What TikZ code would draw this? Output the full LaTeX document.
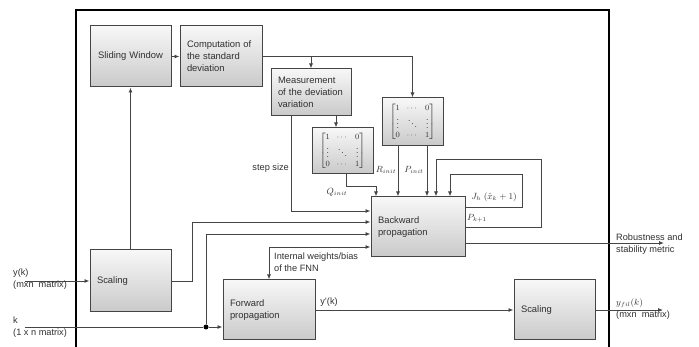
\documentclass[tikz,border=0pt]{standalone}
\usepackage{amsmath,amssymb}
\usepackage{fontspec}
\setmainfont{Liberation Sans}
\usepackage{xcolor}
\usetikzlibrary{arrows.meta,positioning,calc}

\definecolor{linegray}{HTML}{454545}
\definecolor{txtgray}{HTML}{303030}

\newcommand{\unitmat}{$\setlength{\arraycolsep}{3.5pt}\renewcommand{\arraystretch}{0.9}\begin{bmatrix}1 & \cdots & 0\\ \vdots & \ddots & \vdots\\ 0 & \cdots & 1\end{bmatrix}$}

\begin{document}
\begin{tikzpicture}[x=1pt, y=-1pt,
  block/.style={draw=linegray, line width=1pt, top color=gray!6, bottom color=gray!42,
    align=left, inner xsep=7pt, text=txtgray, font=\fontsize{9.4}{12}\selectfont},
  matbox/.style={block, minimum width=61pt, inner xsep=4pt, align=center, font=\fontsize{8.5}{10}\selectfont},
  lbl/.style={text=txtgray, inner sep=0pt, font=\fontsize{9.2}{12}\selectfont, align=left},
  arrow/.style={-{Latex[length=5pt,width=4pt]}, draw=linegray, line width=0.9pt},
  dblarrow/.style={{Latex[length=5pt,width=4pt]}-{Latex[length=5pt,width=4pt]}, draw=linegray, line width=0.9pt},
  line/.style={draw=linegray, line width=0.9pt},
  dot/.style={circle, fill=black, inner sep=0pt, minimum size=5pt}
]
  \useasboundingbox (0,0) rectangle (699,347);

  % Outer frame
  \draw[line width=1.3pt] (76,347) -- (76,10) -- (609,10) -- (609,347);

  % Blocks
  \node[block, align=center, minimum width=81pt, minimum height=61pt, text width=67pt] (sw) at (130.5,56.5) {Sliding Window};
  \node[block, minimum width=82pt, minimum height=61pt, text width=68pt] (comp) at (221,56.5) {Computation of\\the standard\\deviation};
  \node[block, minimum width=80pt, minimum height=47pt, text width=66pt] (meas) at (311,92.5) {Measurement\\of the deviation\\variation};
  \node[matbox, minimum height=46pt] (matq) at (342.5,151) {\unitmat};
  \node[matbox, minimum height=48pt] (matp) at (412.5,122) {\unitmat};
  \node[block, minimum width=94pt, minimum height=60pt, text width=80pt] (back) at (418,227) {Backward\\propagation};
  \node[block, minimum width=81pt, minimum height=62pt, text width=67pt] (scal1) at (130.5,281) {Scaling};
  \node[block, minimum width=92pt, minimum height=60pt, text width=78pt] (fwd) at (269,310) {Forward\\propagation};
  \node[block, minimum width=81pt, minimum height=60pt, text width=67pt] (scal2) at (554.5,310) {Scaling};

  % Inputs and outputs
  \coordinate (yin) at (25,281);
  \coordinate (kin) at (25,327);
  \coordinate (robout) at (664,243);
  \coordinate (yout) at (663,310);
  \node[dot] (kdot) at (206,327) {};

  % Upper chain
  \draw[arrow] (scal1.north) -- (sw.south);
  \draw[arrow] (sw) -- (comp);
  \draw[arrow] (comp.east) -| (matp.north);
  \draw[arrow] (meas.north |- comp.east) -- (meas.north);
  \draw[arrow] ([xshift=25pt]meas.south) -- ([xshift=25pt]meas.south |- matq.north);

  % Into backward propagation
  \draw[arrow] ([xshift=-20pt]meas.south) |- ([yshift=16pt]back.west);
  \draw[arrow] ([xshift=3.5pt]matq.south) -- ++(0,12) -| ([xshift=-42pt]back.north);
  \draw[arrow] ([xshift=-14.5pt]matp.south) -- ([xshift=-14.5pt]matp.south |- back.north);
  \draw[arrow] ([xshift=14.5pt]matp.south) -- ([xshift=14.5pt]matp.south |- back.north);
  \draw[arrow] ([yshift=20pt]back.east) -- ++(57,0) -- ++(0,-33) -| ([xshift=32pt]back.north);
  \draw[arrow] (back.east) -- ++(76,0) -- ++(0,-68) -| ([xshift=18pt]back.north);
  \draw[arrow] (scal1.east) -- ++(21,0) |- ([yshift=5pt]back.west);
  \draw[arrow] (kdot) |- ([yshift=-7pt]back.west);
  \draw[dblarrow] ([yshift=-20pt]back.west) -| (fwd.north);
  \draw[arrow] ([yshift=-16pt]back.east) -- (robout);

  % Lower chain
  \draw[arrow] (yin) -- (scal1.west);
  \draw[line] (kin) -- (kdot);
  \draw[arrow] (kdot) -- ([yshift=-17pt]fwd.west);
  \draw[arrow] (fwd.east) -- (scal2.west);
  \draw[arrow] (scal2.east) -- (yout);

  % Labels
  \node[lbl, anchor=east] (lstep) at (289,168) {step size};
  \node[lbl] (lr) at (386,170) {$R_{init}$};
  \node[lbl] (lp) at (414,170) {$P_{init}$};
  \node[lbl] (lq) at (337,192) {$Q_{init}$};
  \node[lbl] (lj) at (494,197) {$J_h\ (\hat{x}_k+1)$};
  \node[lbl] (lpk) at (477,218) {$P_{k+1}$};
  \node[lbl, anchor=west] (lint) at (274,262.5) {Internal weights/bias\\of the FNN};
  \node[lbl] (lyp) at (329,302) {y'(k)};
  \node[lbl, anchor=west] (lyin) at (13,279) {y(k)\\(mxn\ \ matrix)};
  \node[lbl, anchor=west] (lkin) at (13,327) {k\\(1 x n matrix)};
  \node[lbl, anchor=west] (lrob) at (616,244) {Robustness and\\stability metric};
  \node[lbl, anchor=west] (lyout) at (616,309) {$y_{fil}(k)$\\(mxn\ \ matrix)};
\end{tikzpicture}
\end{document}
